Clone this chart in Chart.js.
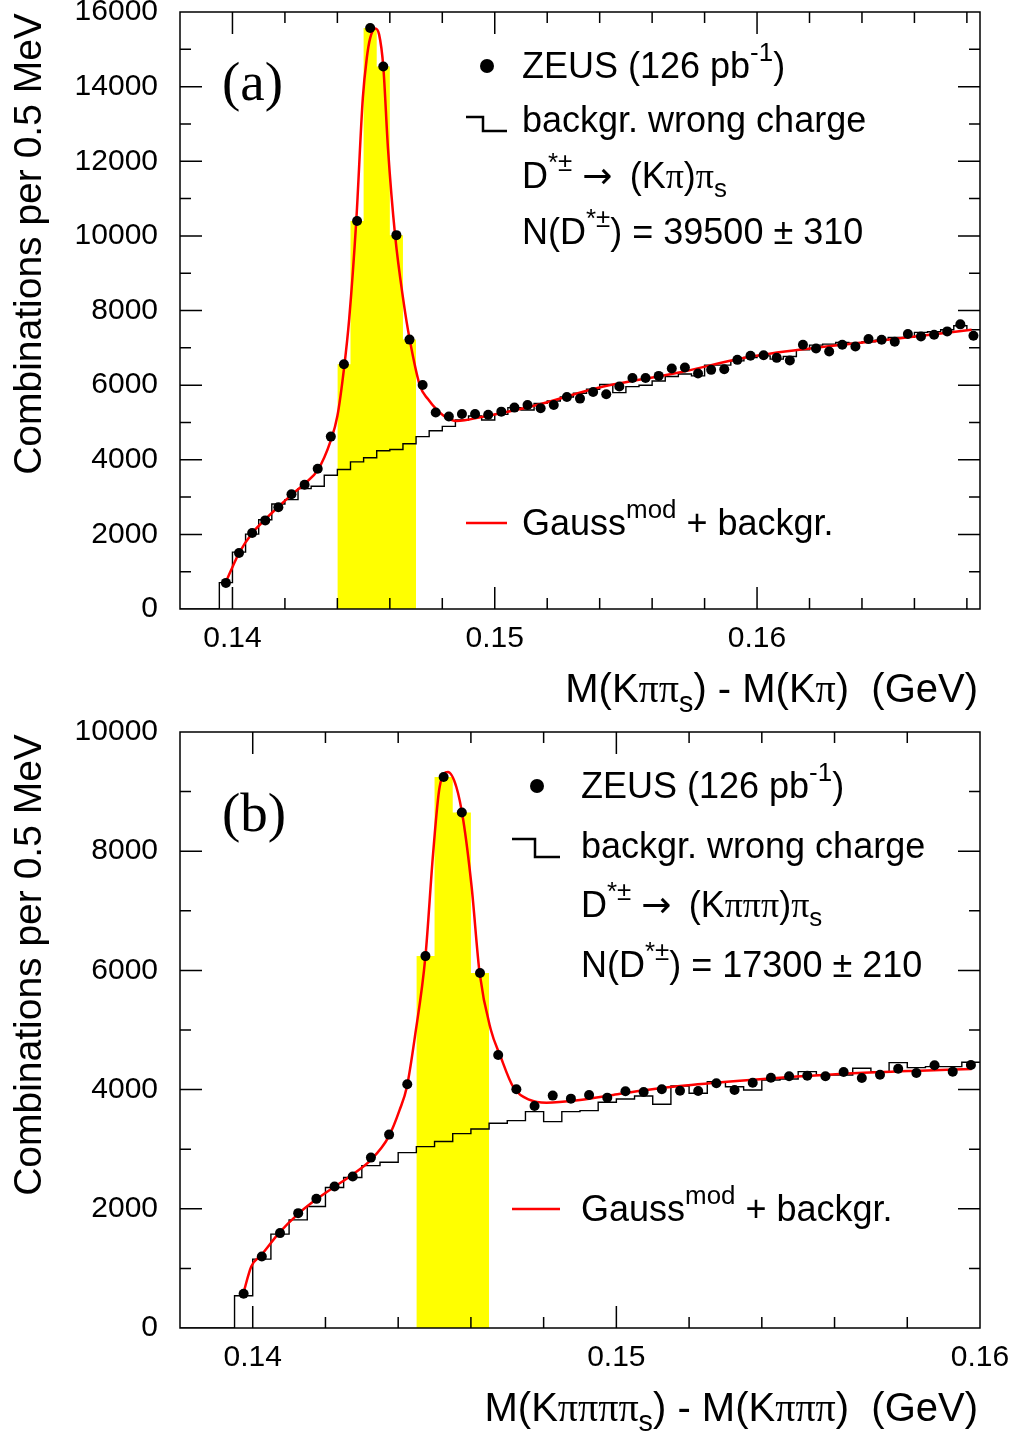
<!DOCTYPE html>
<html>
<head>
<meta charset="utf-8">
<script src="https://cdn.jsdelivr.net/npm/chart.js@4.4.1/dist/chart.umd.min.js"></script>
<style>
  html, body { margin: 0; padding: 0; background: #fff; }
  canvas { display: block; }
</style>
</head>
<body>
<canvas id="panelA" width="1013" height="720"></canvas>
<canvas id="panelB" width="1013" height="711"></canvas>
<script>
// M(K pi pi_s) - M(K pi), bin centres in GeV (0.5 MeV bins)
const MASS_A = [0.13975, 0.14025, 0.14075, 0.14125, 0.14175, 0.14225, 0.14275, 0.14325, 0.14375, 0.14425,
  0.14475, 0.14525, 0.14575, 0.14625, 0.14675, 0.14725, 0.14775, 0.14825, 0.14875, 0.14925,
  0.14975, 0.15025, 0.15075, 0.15125, 0.15175, 0.15225, 0.15275, 0.15325, 0.15375, 0.15425,
  0.15475, 0.15525, 0.15575, 0.15625, 0.15675, 0.15725, 0.15775, 0.15825, 0.15875, 0.15925,
  0.15975, 0.16025, 0.16075, 0.16125, 0.16175, 0.16225, 0.16275, 0.16325, 0.16375, 0.16425,
  0.16475, 0.16525, 0.16575, 0.16625, 0.16675, 0.16725, 0.16775, 0.16825];
const ZEUS_A = [700, 1500, 2035, 2375, 2725, 3075, 3330, 3760, 4620, 6560,
  10400, 15570, 14540, 10020, 7220, 6005, 5265, 5160, 5226, 5226,
  5208, 5289, 5397, 5467, 5378, 5467, 5682, 5639, 5817, 5755,
  5961, 6193, 6193, 6247, 6446, 6473, 6311, 6409, 6427, 6677,
  6785, 6803, 6731, 6660, 7081, 6983, 6902, 7081, 7037, 7233,
  7215, 7161, 7368, 7306, 7350, 7440, 7629, 7323];
const WRONG_A = [708, 1524, 2008, 2393, 2815, 2931, 3227, 3289, 3585, 3738,
  3944, 4052, 4240, 4276, 4429, 4620, 4777, 4895, 5064, 5172,
  5064, 5217, 5397, 5333, 5512, 5575, 5682, 5782, 5889, 6015,
  5800, 5961, 5997, 6112, 6230, 6300, 6247, 6535, 6535, 6651,
  6740, 6785, 6696, 6767, 6946, 7072, 7099, 7144, 7126, 7161,
  7207, 7279, 7279, 7413, 7431, 7484, 7592, 7484];
const FIT_X_A = [0.13975, 0.14001, 0.14025, 0.14075, 0.14125, 0.14175, 0.14225, 0.14275, 0.14325, 0.14375,
  0.14400, 0.14425, 0.14445, 0.14472, 0.14497, 0.14512, 0.14525, 0.14544, 0.14559, 0.14575,
  0.14593, 0.14620, 0.14651, 0.14676, 0.14715, 0.14746, 0.14778, 0.14816, 0.14854, 0.14956,
  0.15146, 0.15399, 0.15703, 0.15957, 0.16210, 0.16464, 0.16818];
const FIT_Y_A = [730, 1140, 1500, 2030, 2400, 2740, 3060, 3360, 3720, 4520,
  5170, 6430, 7770, 10400, 13690, 14760, 15300, 15560, 15400, 14540,
  12340, 10020, 8300, 7215, 5977, 5620, 5351, 5128, 5040, 5155,
  5440, 5935, 6338, 6740, 6991, 7188, 7484];
const SIGNAL_A = [0.144, 0.147];

// M(K pi pi pi pi_s) - M(K pi pi pi)
const MASS_B = [0.13975, 0.14025, 0.14075, 0.14125, 0.14175, 0.14225, 0.14275, 0.14325, 0.14375, 0.14425,
  0.14475, 0.14525, 0.14575, 0.14625, 0.14675, 0.14725, 0.14775, 0.14825, 0.14875, 0.14925,
  0.14975, 0.15025, 0.15075, 0.15125, 0.15175, 0.15225, 0.15275, 0.15325, 0.15375, 0.15425,
  0.15475, 0.15525, 0.15575, 0.15625, 0.15675, 0.15725, 0.15775, 0.15825, 0.15875, 0.15925,
  0.15975];
const ZEUS_B = [575, 1200, 1592, 1927, 2167, 2373, 2541, 2859, 3245, 4089,
  6240, 9245, 8648, 5955, 4580, 4005, 3726, 3899, 3848, 3910,
  3865, 3972, 3960, 4005, 3982, 3977, 4106, 3994, 4116, 4200,
  4223, 4234, 4223, 4296, 4195, 4250, 4351, 4279, 4408, 4301,
  4413];
const WRONG_B = [541, 1156, 1575, 1815, 2039, 2357, 2524, 2725, 2782, 2943,
  3044, 3128, 3262, 3340, 3436, 3479, 3630, 3463, 3630, 3647,
  3788, 3843, 3893, 3754, 4061, 3938, 4133, 4049, 3994, 4161,
  4178, 4301, 4245, 4245, 4357, 4301, 4452, 4368, 4385, 4385,
  4458];
const FIT_X_B = [0.13975, 0.13996, 0.14024, 0.14072, 0.14122, 0.14173, 0.14223, 0.14273, 0.14325, 0.14374,
  0.14404, 0.14424, 0.14446, 0.14475, 0.14496, 0.14514, 0.14537, 0.14560, 0.14579, 0.14602,
  0.14624, 0.14655, 0.14680, 0.14716, 0.14762, 0.14808, 0.14900, 0.14991, 0.15083, 0.15175,
  0.15340, 0.15468, 0.15651, 0.15835, 0.15977];
const FIT_Y_B = [600, 1032, 1228, 1592, 1899, 2150, 2363, 2569, 2821, 3211,
  3659, 4049, 4887, 6240, 7961, 9077, 9329, 9077, 8519, 7401,
  5955, 5000, 4580, 4049, 3826, 3781, 3826, 3910, 3994, 4061,
  4150, 4207, 4274, 4318, 4346];
const SIGNAL_B = [0.1445, 0.1465];

const X_LABELS = [0.14, 0.15, 0.16];
const BIN_HALF = 0.00025;
const SANS = '"Liberation Sans", Arial, "DejaVu Sans", sans-serif';
const SERIF = '"Liberation Serif", "Times New Roman", serif';
const ARROW = '"DejaVu Sans", sans-serif';
const PI = '\u03c0';

function histPoints(mass, vals, start) {
  const pts = [{x: start, y: 0}];
  mass.forEach((m, i) => pts.push({x: m - BIN_HALF, y: vals[i]}));
  pts.push({x: mass[mass.length - 1] + BIN_HALF, y: vals[vals.length - 1]});
  return pts;
}

function signalPoints(mass, vals, win) {
  const pts = [];
  mass.forEach((m, i) => {
    if (m > win[0] && m < win[1]) pts.push({x: m - BIN_HALF, y: vals[i]});
  });
  pts.push({x: win[1], y: pts[pts.length - 1].y});
  return pts;
}

// text with sub/superscripts: runs = [[text, ''|'sup'|'sub', family?], ...]
function drawRich(ctx, runs, x, y, size, align) {
  const parts = runs.map(([t, m, fam]) => {
    const s = m ? size * 0.72 : size;
    const font = s + 'px ' + (fam || SANS);
    ctx.font = font;
    const dy = m === 'sup' ? -size * 0.46 : (m === 'sub' ? size * 0.24 : 0);
    return {t, font, dy, w: ctx.measureText(t).width};
  });
  const total = parts.reduce((acc, p) => acc + p.w, 0);
  let cx = x;
  if (align === 'right') cx = x - total;
  if (align === 'center') cx = x - total / 2;
  ctx.textAlign = 'left';
  ctx.textBaseline = 'alphabetic';
  parts.forEach(p => {
    ctx.font = p.font;
    ctx.fillText(p.t, cx, y + p.dy);
    cx += p.w;
  });
}

// split a plain string so that every pi is set in the serif face
function withPi(str, mode) {
  const out = [];
  str.split(/(\u03c0)/).forEach(s => {
    if (!s) return;
    out.push(s === PI ? [s, mode || '', SERIF] : [s, mode || '']);
  });
  return out;
}

const frameTicks = {
  id: 'frameTicks',
  afterDatasetsDraw(chart) {
    const {ctx, chartArea: a, scales: {x, y}} = chart;
    ctx.save();
    ctx.strokeStyle = '#000';
    ctx.lineWidth = 1.5;
    ctx.beginPath();
    for (let i = Math.ceil(x.min / 0.002 - 1e-6); i * 0.002 < x.max - 1e-6; i++) {
      const v = i * 0.002;
      if (v <= x.min + 1e-6) continue;
      const major = Math.abs(v / 0.01 - Math.round(v / 0.01)) < 1e-6;
      const len = major ? 22 : 11;
      const px = x.getPixelForValue(v);
      ctx.moveTo(px, a.bottom); ctx.lineTo(px, a.bottom - len);
      ctx.moveTo(px, a.top); ctx.lineTo(px, a.top + len);
    }
    for (let v = 1000; v < y.max; v += 1000) {
      const len = v % 2000 === 0 ? 22 : 11;
      const py = y.getPixelForValue(v);
      ctx.moveTo(a.left, py); ctx.lineTo(a.left + len, py);
      ctx.moveTo(a.right, py); ctx.lineTo(a.right - len, py);
    }
    ctx.stroke();
    ctx.strokeRect(a.left, a.top, a.right - a.left, a.bottom - a.top);
    ctx.restore();
  }
};

function decor(p) {
  return {
    id: 'decor',
    afterDraw(chart) {
      const ctx = chart.ctx;
      ctx.save();
      ctx.fillStyle = '#000';
      ctx.strokeStyle = '#000';

      // panel label
      ctx.font = '55px ' + SERIF;
      ctx.textAlign = 'left';
      ctx.textBaseline = 'alphabetic';
      ctx.fillText(p.tag, 222, p.tagY);

      // legend symbols
      const s = p.sym;
      ctx.beginPath();
      ctx.arc(s.dotX, s.dotY, 7, 0, Math.PI * 2);
      ctx.fill();
      ctx.lineWidth = 2.5;
      ctx.beginPath();
      ctx.moveTo(s.stepX0, s.stepY0);
      ctx.lineTo(s.stepX1, s.stepY0);
      ctx.lineTo(s.stepX1, s.stepY1);
      ctx.lineTo(s.stepX2, s.stepY1);
      ctx.stroke();
      ctx.strokeStyle = '#ff0000';
      ctx.beginPath();
      ctx.moveTo(s.stepX0, s.redY);
      ctx.lineTo(s.stepX2, s.redY);
      ctx.stroke();

      // legend texts
      p.texts.forEach(t => drawRich(ctx, t.runs, p.textX, t.y, 36, 'left'));

      // axis titles
      drawRich(ctx, p.xTitle, 978, p.xTitleY, 40, 'right');
      ctx.save();
      ctx.translate(41, p.yTitleY);
      ctx.rotate(-Math.PI / 2);
      drawRich(ctx, [['Combinations per 0.5 MeV', '']], 0, 0, 39, 'center');
      ctx.restore();
      ctx.restore();
    }
  };
}

function makePanel(id, p) {
  return new Chart(document.getElementById(id), {
    type: 'scatter',
    data: {
      datasets: [
        {
          label: 'ZEUS (126 pb-1)',
          data: p.mass.map((m, i) => ({x: m, y: p.zeus[i]})),
          pointRadius: 5, pointBackgroundColor: '#000', pointBorderWidth: 0,
          showLine: false, order: 0
        },
        {
          label: 'Gauss mod + backgr.',
          data: p.fitX.map((m, i) => ({x: m, y: p.fitY[i]})),
          showLine: true, borderColor: '#ff0000', borderWidth: 2.5, pointRadius: 0,
          cubicInterpolationMode: 'monotone', order: 1
        },
        {
          label: 'backgr. wrong charge',
          data: histPoints(p.mass, p.wrong, p.xMin),
          showLine: true, stepped: 'before', borderColor: '#000', borderWidth: 1.4,
          pointRadius: 0, order: 2
        },
        {
          label: 'signal region',
          data: signalPoints(p.mass, p.zeus, p.signal),
          showLine: true, stepped: 'before', borderColor: 'rgba(0,0,0,0)', borderWidth: 1,
          backgroundColor: '#ffff00', fill: 'origin', pointRadius: 0, order: 3
        }
      ]
    },
    options: {
      responsive: false,
      animation: false,
      devicePixelRatio: 1,
      layout: {padding: {left: 0, right: 33, top: 12, bottom: 0}},
      plugins: {legend: {display: false}, tooltip: {enabled: false}},
      scales: {
        x: {
          type: 'linear', min: p.xMin, max: p.xMax,
          grid: {display: false}, border: {display: false},
          afterBuildTicks: sc => { sc.ticks = X_LABELS.map(v => ({value: v})); },
          afterFit: sc => { sc.height = p.xAxisH; sc.paddingLeft = 0; sc.paddingRight = 0; },
          ticks: {
            font: {family: SANS, size: 30}, color: '#000', padding: 4,
            maxRotation: 0, autoSkip: false, callback: v => v.toFixed(2)
          }
        },
        y: {
          min: 0, max: p.yMax,
          grid: {display: false}, border: {display: false},
          afterFit: sc => { sc.width = 180; sc.paddingTop = 0; sc.paddingBottom = 0; },
          ticks: {
            stepSize: 2000, font: {family: SANS, size: 30}, color: '#000', padding: 14,
            callback: v => String(v)
          }
        }
      }
    },
    plugins: [frameTicks, decor(p)]
  });
}

makePanel('panelA', {
  mass: MASS_A, zeus: ZEUS_A, wrong: WRONG_A, fitX: FIT_X_A, fitY: FIT_Y_A, signal: SIGNAL_A,
  xMin: 0.138, xMax: 0.1685, yMax: 16000, xAxisH: 111,
  tag: '(a)', tagY: 100, textX: 522,
  sym: {dotX: 487, dotY: 66, stepX0: 466, stepX1: 483, stepX2: 507, stepY0: 117, stepY1: 131, redY: 523},
  texts: [
    {y: 78, runs: [['ZEUS (126 pb', ''], ['-1', 'sup'], [')', '']]},
    {y: 132, runs: [['backgr. wrong charge', '']]},
    {y: 188, runs: [['D', ''], ['*\u00b1', 'sup'], [' ', ''], ['\u2192', '', ARROW], ['\u2009', ''], ...withPi(' (K\u03c0)\u03c0'), ['s', 'sub']]},
    {y: 244, runs: [['N(D', ''], ['*\u00b1', 'sup'], [') = 39500 \u00b1 310', '']]},
    {y: 535, runs: [['Gauss', ''], ['mod', 'sup'], [' + backgr.', '']]}
  ],
  xTitle: [...withPi('M(K\u03c0\u03c0'), ['s', 'sub'], ...withPi(') - M(K\u03c0)  (GeV)')],
  xTitleY: 702, yTitleY: 244
});

makePanel('panelB', {
  mass: MASS_B, zeus: ZEUS_B, wrong: WRONG_B, fitX: FIT_X_B, fitY: FIT_Y_B, signal: SIGNAL_B,
  xMin: 0.138, xMax: 0.16, yMax: 10000, xAxisH: 103,
  tag: '(b)', tagY: 111, textX: 581,
  sym: {dotX: 537, dotY: 66, stepX0: 512, stepX1: 535, stepX2: 560, stepY0: 119, stepY1: 137, redY: 489},
  texts: [
    {y: 78, runs: [['ZEUS (126 pb', ''], ['-1', 'sup'], [')', '']]},
    {y: 138, runs: [['backgr. wrong charge', '']]},
    {y: 197, runs: [['D', ''], ['*\u00b1', 'sup'], [' ', ''], ['\u2192', '', ARROW], ['\u2009', ''], ...withPi(' (K\u03c0\u03c0\u03c0)\u03c0'), ['s', 'sub']]},
    {y: 257, runs: [['N(D', ''], ['*\u00b1', 'sup'], [') = 17300 \u00b1 210', '']]},
    {y: 501, runs: [['Gauss', ''], ['mod', 'sup'], [' + backgr.', '']]}
  ],
  xTitle: [...withPi('M(K\u03c0\u03c0\u03c0\u03c0'), ['s', 'sub'], ...withPi(') - M(K\u03c0\u03c0\u03c0)  (GeV)')],
  xTitleY: 701, yTitleY: 245
});
</script>
</body>
</html>
